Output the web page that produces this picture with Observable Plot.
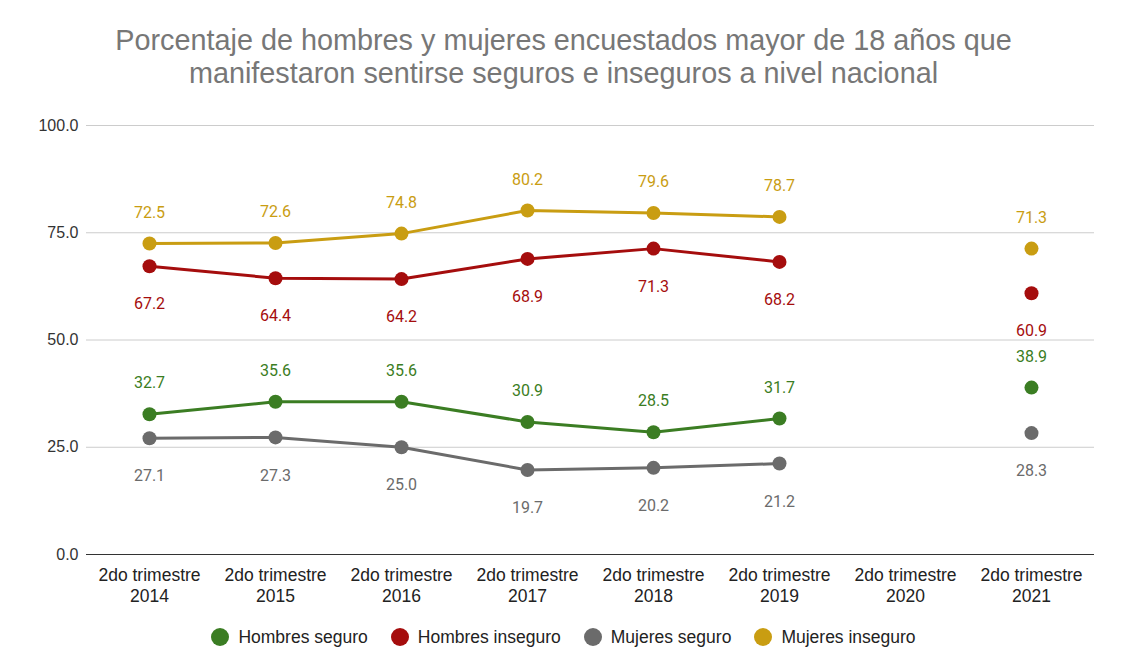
<!DOCTYPE html>
<html>
<head>
<meta charset="utf-8">
<script src="https://cdn.jsdelivr.net/npm/d3@7"></script>
<script src="https://cdn.jsdelivr.net/npm/@observablehq/plot@0.6"></script>
<style>
  html, body { margin: 0; padding: 0; background: #fff; }
  #wrap { width: 1127px; height: 668px; position: relative; font-family: "Liberation Sans", Arial, sans-serif; }
  #title { position: absolute; top: 24px; left: 0; width: 1127px; text-align: center; color: #777777; font-size: 28.8px; line-height: 33px; }
  #chart { position: absolute; top: 100px; left: 0; }
  #legend { position: absolute; top: 626px; left: 0; width: 1127px; display: flex; justify-content: center; gap: 23px; font-size: 17.5px; line-height: 22px; color: #222; }
  #legend .item { display: flex; align-items: center; gap: 9px; }
  #legend .sw { width: 18px; height: 18px; border-radius: 50%; display: inline-block; }
</style>
</head>
<body>
<div id="wrap">
  <div id="title">Porcentaje de hombres y mujeres encuestados mayor de 18 años que<br>manifestaron sentirse seguros e inseguros a nivel nacional</div>
  <div id="chart"></div>
  <div id="legend"></div>
</div>
<script>
const categories = ["2do trimestre\n2014","2do trimestre\n2015","2do trimestre\n2016","2do trimestre\n2017","2do trimestre\n2018","2do trimestre\n2019","2do trimestre\n2020","2do trimestre\n2021"];
const seriesNames = ["Hombres seguro","Hombres inseguro","Mujeres seguro","Mujeres inseguro"];
const seriesColors = ["#3b7d23","#a50d0d","#6b6b6b","#c99d12"];
const hombresSeguro   = [32.7, 35.6, 35.6, 30.9, 28.5, 31.7, NaN, 38.9];
const hombresInseguro = [67.2, 64.4, 64.2, 68.9, 71.3, 68.2, NaN, 60.9];
const mujeresSeguro   = [27.1, 27.3, 25.0, 19.7, 20.2, 21.2, NaN, 28.3];
const mujeresInseguro = [72.5, 72.6, 74.8, 80.2, 79.6, 78.7, NaN, 71.3];
const yTicks = [0, 25, 50, 75, 100];

const seriesValues = [hombresSeguro, hombresInseguro, mujeresSeguro, mujeresInseguro];
const rows = [];
seriesNames.forEach((s, i) => {
  categories.forEach((c, j) => rows.push({cat: c, series: s, value: seriesValues[i][j]}));
});
const above = rows.filter(d => (d.series === "Hombres seguro" || d.series === "Mujeres inseguro") && !isNaN(d.value));
const below = rows.filter(d => (d.series === "Hombres inseguro" || d.series === "Mujeres seguro") && !isNaN(d.value));

const chart = Plot.plot({
  width: 1127,
  height: 510,
  marginLeft: 86,
  marginRight: 33,
  marginTop: 25,
  marginBottom: 56,
  style: {background: "#fff", fontFamily: "'Liberation Sans', Arial, sans-serif"},
  x: {type: "point", domain: categories, padding: 0.5, label: null},
  y: {domain: [0, 100], label: null},
  color: {domain: seriesNames, range: seriesColors},
  marks: [
    Plot.gridY(yTicks, {stroke: "#cccccc", strokeOpacity: 1, strokeWidth: 1}),
    Plot.axisY(yTicks, {tickSize: 0, tickPadding: 8, tickFormat: d => d.toFixed(1), fontSize: 16, fill: "#333", label: null}),
    Plot.axisX({tickSize: 0, tickPadding: 12, fontSize: 17.5, fill: "#222", lineHeight: 1.2, label: null}),
    Plot.ruleY([0], {stroke: "#333", strokeWidth: 1.2}),
    Plot.line(rows, {x: "cat", y: "value", z: "series", stroke: "series", strokeWidth: 3}),
    Plot.dot(rows, {x: "cat", y: "value", fill: "series", r: 7, filter: d => !isNaN(d.value)}),
    Plot.text(above, {x: "cat", y: "value", text: d => d.value.toFixed(1), fill: "series", dy: -31, fontSize: 16, fontFamily: "Roboto"}),
    Plot.text(below, {x: "cat", y: "value", text: d => d.value.toFixed(1), fill: "series", dy: 38, fontSize: 16, fontFamily: "Roboto"})
  ]
});
document.getElementById("chart").appendChild(chart);

const legend = document.getElementById("legend");
seriesNames.forEach((s, i) => {
  const item = document.createElement("div");
  item.className = "item";
  const sw = document.createElement("span");
  sw.className = "sw";
  sw.style.background = seriesColors[i];
  const t = document.createElement("span");
  t.textContent = s;
  item.appendChild(sw);
  item.appendChild(t);
  legend.appendChild(item);
});
</script>
</body>
</html>
